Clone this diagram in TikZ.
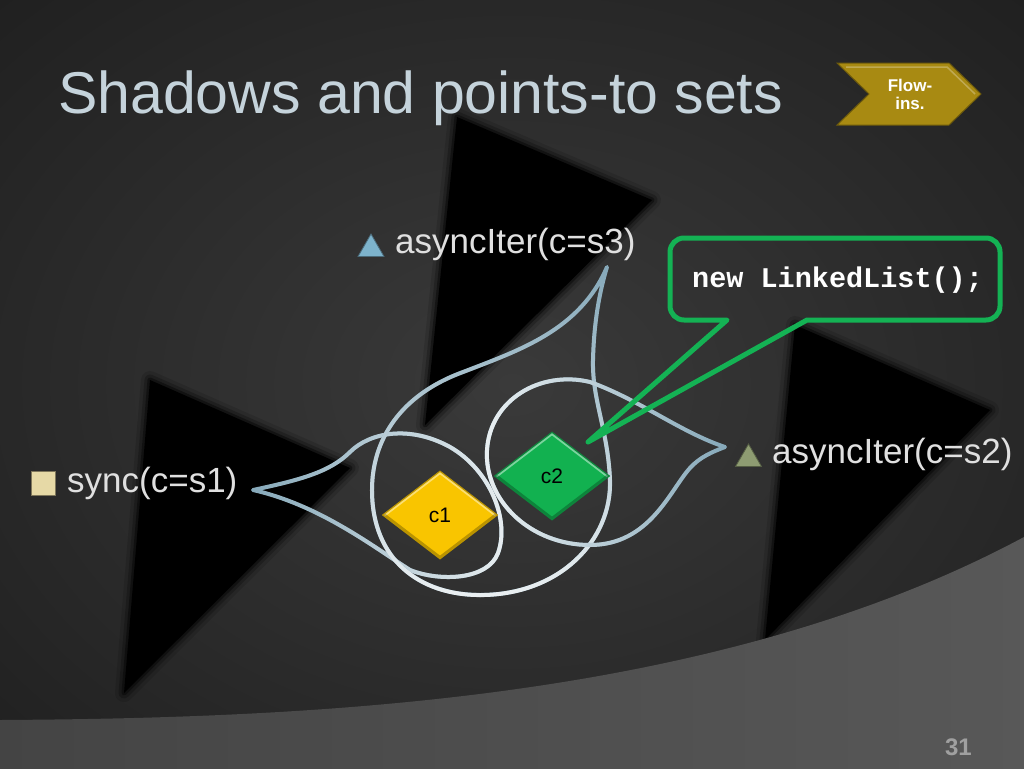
\documentclass[tikz,border=0pt]{standalone}
\usepackage{fontspec}
\setmainfont{Liberation Sans}
\newfontfamily\codefont{Liberation Mono}
\usepackage{xcolor}
\usetikzlibrary{shapes.geometric, fadings}

\definecolor{bgin}{HTML}{3A3A3A}
\definecolor{bgout}{HTML}{1E1E1E}
\definecolor{bandleft}{HTML}{444444}
\definecolor{bandright}{HTML}{585858}
\definecolor{titlegray}{HTML}{C5D3DB}
\definecolor{labelgray}{HTML}{E0E0E0}
\definecolor{numgray}{HTML}{A0A0A0}
\definecolor{setblue}{HTML}{86A9BA}
\definecolor{setwhite}{HTML}{EBF0F2}
\definecolor{cyellow}{HTML}{F9C500}
\definecolor{cgreen}{HTML}{12B150}
\definecolor{bubgreen}{HTML}{14B254}
\definecolor{flowgold}{HTML}{A88A12}
\definecolor{iconbeige}{HTML}{E6D9A6}
\definecolor{iconblue}{HTML}{7DB3CC}
\definecolor{iconolive}{HTML}{8E9C72}

\pgfdeclareradialshading{slidebg}{\pgfpoint{0bp}{0bp}}{color(0bp)=(bgin); color(38bp)=(bgout); color(50bp)=(bgout)}

\tikzset{
  title text/.style={font=\fontsize{59}{70}\selectfont, text=titlegray, inner sep=0, anchor=base west},
  label text/.style={font=\fontsize{35}{40}\selectfont, text=labelgray, inner sep=0, anchor=base west},
  code text/.style={font=\codefont\bfseries\fontsize{28.5}{32}\selectfont, text=white, inner sep=0, anchor=base west},
  flow text/.style={font=\bfseries\fontsize{17}{18}\selectfont, text=white, align=center, inner sep=0},
  set line/.style={line width=4pt, line join=round, setblue},
  elem/.style={diamond, inner sep=0, minimum width=115pt, minimum height=88pt, fill=#1, draw=#1!75!black, line width=1.2pt, font=\fontsize{21}{24}\selectfont,
    path picture={
      \draw[white, opacity=0.45, line width=5pt] (path picture bounding box.west) -- (path picture bounding box.north) -- (path picture bounding box.east);
      \draw[black, opacity=0.25, line width=5pt] (path picture bounding box.west) -- (path picture bounding box.south) -- (path picture bounding box.east);
    }},
  tri icon/.style={regular polygon, regular polygon sides=3, minimum size=30pt, inner sep=0, fill=#1, draw=#1!60!black, line width=0.8pt},
  sq icon/.style={rectangle, minimum size=24pt, inner sep=0, fill=iconbeige, draw=iconbeige!55!black, line width=1pt},
  bubble line/.style={draw=bubgreen, line width=5pt, line join=round},
}

\begin{document}
\begin{tikzpicture}[x=1pt, y=-1pt]

%slide background
\useasboundingbox (0,0) rectangle (1024,768);
\shade[shading=slidebg] (-4,-4) rectangle (1028,772);

%shadows
\foreach \w/\o in {18/0.12, 11/0.22, 5/0.4} {
  \draw[black, line width=\w pt, opacity=\o, line join=round] (457,117) -- (652,200) -- (425,425) -- cycle;
  \draw[black, line width=\w pt, opacity=\o, line join=round] (150,380) -- (350,468) -- (124,693) -- cycle;
  \draw[black, line width=\w pt, opacity=\o, line join=round] (795,325) -- (990,410) -- (765,640) -- cycle;
}
\fill[black] (457,117) -- (652,200) -- (425,425) -- cycle;
\fill[black] (150,380) -- (350,468) -- (124,693) -- cycle;
\fill[black] (795,325) -- (990,410) -- (765,640) -- cycle;

%bottom band
\shade[left color=bandleft, right color=bandright] (-4,775) -- (-4,720) -- (0,720) .. controls (320,718) and (720,700) .. (1024,537) -- (1028,535) -- (1028,775) -- cycle;

%title
\node[title text] (title) at (58,113) {Shadows and points-to sets};

%flow-ins chevron
\filldraw[fill=flowgold, draw=flowgold!65!black, line width=1pt] (837,63) -- (949,63) -- (981,94) -- (949,125) -- (837,125) -- (869,94) -- cycle;
\draw[flowgold!55!white, line width=1.5pt, opacity=0.6] (846,67) -- (947,67) -- (975,94);
\node[flow text] (flow) at (910,94) {Flow-\\ins.};

%points-to sets
\coordinate (tipA) at (253,490);
\coordinate (tipB) at (607,267);
\coordinate (tipC) at (725,447);

\draw[set line, postaction={draw=setwhite, path fading=west}] (tipA)
  .. controls (300,480) and (330,472) .. (350,452)
  .. controls (370,432) and (410,425) .. (450,447)
  .. controls (490,470) and (510,520) .. (498,553)
  .. controls (488,580) and (440,582) .. (410,570)
  .. controls (375,548) and (320,505) .. (tipA) -- cycle;

\draw[set line, postaction={draw=setwhite, path fading=north}] (tipB)
  .. controls (580,330) and (520,350) .. (463,372)
  .. controls (400,395) and (372,440) .. (372,490)
  .. controls (372,560) and (420,595) .. (480,595)
  .. controls (560,595) and (612,540) .. (610,480)
  .. controls (608,430) and (592,400) .. (593,360)
  .. controls (594,320) and (600,290) .. (tipB) -- cycle;

\draw[set line, postaction={draw=setwhite, path fading=east}] (tipC)
  .. controls (680,432) and (640,400) .. (590,382)
  .. controls (540,370) and (490,400) .. (487,450)
  .. controls (484,500) and (530,545) .. (590,545)
  .. controls (650,545) and (670,490) .. (690,468)
  .. controls (700,457) and (712,452) .. (tipC) -- cycle;

%objects
\node[elem=cyellow] (c1) at (440,515) {c1};
\node[elem=cgreen] (c2) at (552,476) {c2};

%labels
\node[sq icon] (s1icon) at (43.5,483) {};
\node[label text] (s1lab) at (67,492) {sync(c=s1)};
\node[tri icon=iconblue] (s3icon) at (371,249) {};
\node[label text] (s3lab) at (395,253) {asyncIter(c=s3)};
\node[tri icon=iconolive] (s2icon) at (748.5,459) {};
\node[label text] (s2lab) at (772,463) {asyncIter(c=s2)};

%callout
\node[code text] (code) at (692,287) {new LinkedList();};
\coordinate (ptr) at (588,442);
\draw[bubble line] (807,320) -- (986,320) arc[start angle=90, end angle=0, radius=14]
  -- (1000,252) arc[start angle=0, end angle=-90, radius=14]
  -- (684,238) arc[start angle=-90, end angle=-180, radius=14]
  -- (670,306) arc[start angle=180, end angle=90, radius=14]
  -- (727,320) -- (ptr) -- cycle;

%page number
\node[font=\bfseries\fontsize{24}{30}\selectfont, text=numgray, inner sep=0, anchor=base east] (pagenum) at (972,755) {31};

\end{tikzpicture}
\end{document}
